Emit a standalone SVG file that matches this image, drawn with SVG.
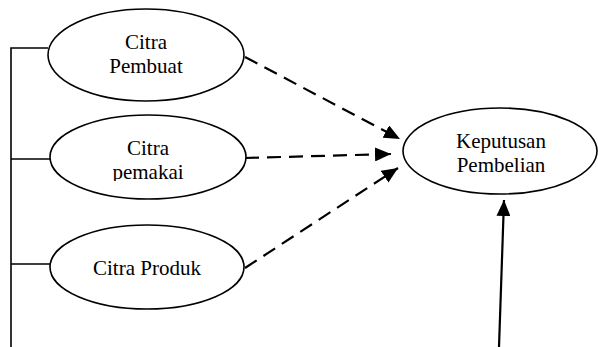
<svg xmlns="http://www.w3.org/2000/svg" width="598" height="347" viewBox="0 0 598 347">
<style>
.node ellipse{fill:#fff;stroke:#000;stroke-width:1.6}
text{font-family:"Liberation Serif","Times New Roman",serif;font-size:21px;fill:#000;text-anchor:middle}
.tick{stroke:#000;stroke-width:1.6;fill:none}
.dash{stroke:#000;stroke-width:2.2;fill:none;stroke-dasharray:14 8;marker-end:url(#ah)}
.solid{stroke:#000;stroke-width:2.2;fill:none;marker-end:url(#ah)}
</style>
<defs>
<marker id="ah" markerUnits="userSpaceOnUse" markerWidth="16" markerHeight="14" refX="16" refY="7" orient="auto">
<path d="M0,0 L16,7 L0,14 Z" fill="#000"/>
</marker>
<clipPath id="clip2"><rect x="50" y="115" width="200" height="66"/></clipPath>
</defs>
<g id="connectors">
<path class="tick" d="M11,347 V48 H48 M11,159 H50 M11,264 H50"/>
<line class="dash" x1="245" y1="57" x2="400" y2="139"/>
<line class="dash" x1="245" y1="158" x2="391" y2="154"/>
<line class="dash" x1="245" y1="268" x2="398" y2="168"/>
<line class="solid" x1="499" y1="347" x2="504" y2="200"/>
</g>
<g id="citra-pembuat" class="node">
<ellipse cx="146" cy="55" rx="98" ry="46"/>
<text x="146" y="49">Citra</text>
<text x="146" y="73">Pembuat</text>
</g>
<g id="citra-pemakai" class="node">
<ellipse cx="148" cy="157" rx="98" ry="42"/>
<g clip-path="url(#clip2)">
<text x="148" y="155">Citra</text>
<text x="148" y="179">pemakai</text>
</g>
</g>
<g id="citra-produk" class="node">
<ellipse cx="147" cy="267" rx="97" ry="42"/>
<text x="147" y="275">Citra Produk</text>
</g>
<g id="keputusan-pembelian" class="node">
<ellipse cx="500" cy="151" rx="97" ry="43"/>
<text x="501" y="148">Keputusan</text>
<text x="501" y="172">Pembelian</text>
</g>
</svg>
